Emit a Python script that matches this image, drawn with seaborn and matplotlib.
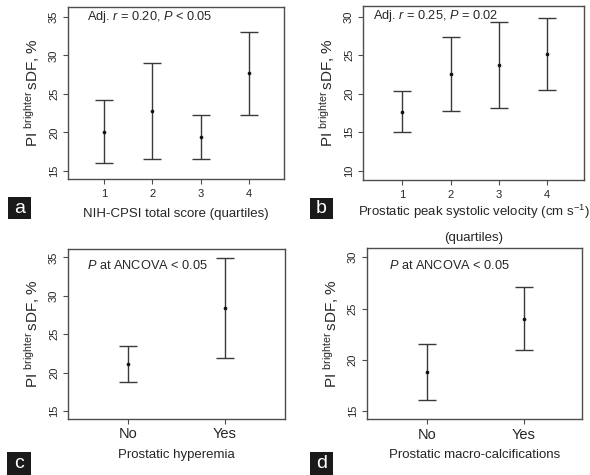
import matplotlib
matplotlib.use("Agg")
import matplotlib.pyplot as plt
import seaborn as sns
import pandas as pd
from matplotlib.patches import Rectangle

sns.set_theme(style="white")
plt.rcParams['font.family'] = ['Liberation Sans', 'DejaVu Sans']
plt.rcParams['mathtext.fontset'] = 'custom'
plt.rcParams['mathtext.rm'] = 'Liberation Sans'
plt.rcParams['mathtext.it'] = 'Liberation Sans:italic'

# ---- data ----
quart_x = [1, 2, 3, 4]
a_mean = [20.1, 22.8, 19.4, 27.7]
a_low = [16.1, 16.6, 16.5, 22.3]
a_high = [24.2, 29.0, 22.3, 33.1]

b_mean = [17.6, 22.6, 23.7, 25.1]
b_low = [15.0, 17.7, 18.1, 20.5]
b_high = [20.3, 27.4, 29.3, 29.8]

cat_labels = ["No", "Yes"]
cat_x = [1, 2]
c_mean = [21.1, 28.4]
c_low = [18.8, 21.9]
c_high = [23.5, 34.9]

d_mean = [18.8, 24.0]
d_low = [16.1, 21.0]
d_high = [21.5, 27.1]

a_yticks = [15, 20, 25, 30, 35]
b_yticks = [10, 15, 20, 25, 30]
c_yticks = [15, 20, 25, 30, 35]
d_yticks = [15, 20, 25, 30]

ylabel = r'PI $^{\mathrm{brighter}}\,$sDF, %'
FRAME = '#4d4d4d'
BAR = '#3a3a3a'

fig = plt.figure(figsize=(5.9, 4.75), dpi=100)

def panel(rect, x, mean, low, high, xlim, ylim, yticks, xticklabels, tick_fs,
          xpad, xlabel, xlabelpad, note, note_xy, letter_box):
    ax = fig.add_axes(rect)
    df = pd.DataFrame({'x': x, 'mean': mean, 'low': low, 'high': high})
    ax.errorbar(df['x'], df['mean'],
                yerr=[df['mean'] - df['low'], df['high'] - df['mean']],
                fmt='none', ecolor=BAR, elinewidth=1.0, capsize=6.5, capthick=1.0)
    sns.scatterplot(data=df, x='x', y='mean', ax=ax, color='#111111', s=7,
                    linewidth=0, zorder=3)
    ax.set_xlim(*xlim)
    ax.set_ylim(*ylim)
    ax.set_xticks(x)
    ax.set_xticklabels(xticklabels, fontsize=tick_fs)
    ax.set_yticks(yticks)
    ax.set_yticklabels([str(t) for t in yticks], fontsize=8, rotation=90, va='center')
    ax.tick_params(axis='both', direction='out', length=3.5, width=0.8,
                   color=FRAME, bottom=True, left=True, pad=3)
    ax.tick_params(axis='x', pad=xpad)
    for sp in ax.spines.values():
        sp.set_color(FRAME)
        sp.set_linewidth(1.0)
    ax.set_xlabel(xlabel, fontsize=9.5, labelpad=xlabelpad)
    ax.set_ylabel(ylabel, fontsize=11, labelpad=5)
    ax.text(note_xy[0], note_xy[1], note, transform=ax.transAxes,
            fontsize=9.2, ha='left', va='center')
    # panel letter
    lx0, ly0, lx1, ly1, letter = letter_box
    W, H = 590, 475
    fig.patches.append(Rectangle((lx0 / W, 1 - ly1 / H), (lx1 - lx0) / W,
                                 (ly1 - ly0) / H, transform=fig.transFigure,
                                 facecolor='#1a1a1a', edgecolor='none'))
    fig.text((lx0 + lx1) / 2 / W, 1 - (ly0 + ly1) / 2 / H, letter, color='white',
             fontsize=14, ha='center', va='center')
    return ax

axa = panel([0.1153, 0.6232, 0.366, 0.3621], quart_x, a_mean, a_low, a_high,
            (0.26, 4.72), (13.96, 36.3), a_yticks, [str(v) for v in quart_x], 8,
            4, 'NIH-CPSI total score (quartiles)', 6.5,
            r'Adj. $r$ = 0.20, $P$ < 0.05', (0.088, 0.942),
            (8, 197, 31, 219, 'a'))

axb = panel([0.6153, 0.6211, 0.3746, 0.3663], quart_x, b_mean, b_low, b_high,
            (0.19, 4.76), (8.8, 31.4), b_yticks, [str(v) for v in quart_x], 8,
            4, r'Prostatic peak systolic velocity (cm s$^{-1}$)', 1.5,
            r'Adj. $r$ = 0.25, $P$ = 0.02', (0.045, 0.943),
            (310, 198, 333, 219, 'b'))
axb.text(0.5, -0.335, '(quartiles)', transform=axb.transAxes, fontsize=9.5,
         ha='center', va='center')

axc = panel([0.1153, 0.1179, 0.3678, 0.3579], cat_x, c_mean, c_low, c_high,
            (0.38, 2.62), (13.96, 36.1), c_yticks, cat_labels, 10.5,
            2.5, 'Prostatic hyperemia', 5.5,
            r'$P$ at ANCOVA < 0.05', (0.0876, 0.902),
            (7, 452, 31, 475, 'c'))

axd = panel([0.6215, 0.1173, 0.3654, 0.36], cat_x, d_mean, d_low, d_high,
            (0.38, 2.6), (14.19, 30.88), d_yticks, cat_labels, 10.5,
            2.5, 'Prostatic macro-calcifications', 5.5,
            r'$P$ at ANCOVA < 0.05', (0.105, 0.898),
            (310, 452, 333, 475, 'd'))

fig.savefig('out.png', dpi=100)
